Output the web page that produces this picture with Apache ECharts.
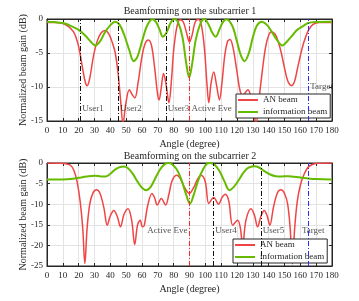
<!DOCTYPE html>
<html>
<head>
<meta charset="utf-8">
<script src="https://cdn.jsdelivr.net/npm/echarts@6/dist/echarts.min.js"></script>
<style>
  html, body { margin: 0; padding: 0; background: #fff; }
  #main { width: 359px; height: 301px; }
</style>
</head>
<body>
<div id="main"></div>
<script>
// 两个子载波上的波束图（角度, 归一化增益 dB）
var an1 = [
  [0, -0.5], [5, -0.5], [9, -0.6], [13, -1.0], [16.8, -1.9], [19, -3.2], [20.5, -4.6],
  [22.5, -7.3], [24.2, -9.3], [25.4, -9.8], [27, -8.7], [29.4, -5.4], [31.5, -3.4],
  [34, -2.1], [36.8, -1.7], [39, -2.2], [41, -3.3], [43.1, -5.0], [45, -8.2], [46.5, -12],
  [48, -15.4], [49.8, -12.4], [52, -10.4], [54, -11.2], [55.5, -11.6], [57.5, -9.4],
  [60, -5.5], [62, -3.6], [64, -3.1], [66, -3.9], [68, -7.2], [69.8, -11], [70.8, -11.9],
  [72, -10.4], [73.6, -8.0], [75.2, -9.6], [77, -12.3], [78.6, -9], [80, -4.6], [82, -1.2],
  [84, -0.1], [86, -0.4], [88, -1.9], [90, -3.4], [91.7, -2.3], [93.5, -0.5], [95.5, -0.05],
  [97.5, -0.9], [99.5, -4.5], [101, -9.5], [102.2, -12.3], [103.6, -9.5], [105.3, -7.8],
  [107, -9.6], [108.9, -11.9], [110.5, -9.4], [112.2, -5.5], [114, -3.3], [115.6, -3.0],
  [117.5, -4.2], [120, -7.8], [121.8, -10.4], [123.5, -11.3], [125.3, -10.8], [126.9, -10.4],
  [129, -11.6], [130.6, -13.6], [132, -15.4], [133.8, -12], [136, -7.6], [138, -4.2],
  [140, -2.4], [141.5, -1.9], [144, -2.2], [146, -3.3], [148, -5], [150, -7.2], [152.2, -9.2],
  [154.6, -9.8], [156.3, -9.2], [158, -7.5], [160, -5.4], [162, -3.6], [165, -1.7],
  [168, -0.8], [172, -0.5], [180, -0.5]
];
var info1 = [
  [0, -0.4], [5, -0.45], [10, -0.6], [15, -1.0], [20, -1.6], [24, -2.4], [27.5, -3.3],
  [30.5, -3.9], [33.5, -3.3], [36.5, -2.0], [40, -0.9], [43, -0.4], [46, -0.9], [49, -2.5],
  [52, -4.6], [54.7, -6.2], [57, -5.6], [60, -3.3], [63, -1.1], [66.5, -0.05], [69, -0.5],
  [71, -1.5], [73.2, -2.6], [75.5, -2.0], [78, -0.6], [80.5, 0], [83, -0.6], [85.5, -2.6],
  [88, -6.6], [89.8, -8.6], [91.6, -6.7], [94, -3.0], [97, -0.6], [99.4, 0], [102, -0.8],
  [104.3, -2.0], [106.5, -2.6], [108.8, -1.6], [111, -0.5], [113.3, -0.03], [117, -1.0],
  [120, -3.3], [122.5, -5.4], [124.8, -6.2], [127.5, -5], [130, -2.7], [132.5, -1.0],
  [135.5, -0.4], [139, -0.9], [142, -1.9], [145, -3.0], [148.7, -3.9], [152, -3.2],
  [155, -2.4], [158, -1.6], [162, -1.0], [165, -0.6], [170, -0.45], [180, -0.4]
];
var an2 = [
  [0, 0], [8, -0.05], [12, -0.2], [15, -0.6], [17, -1.8], [19, -4.5], [21, -9.5],
  [22.6, -16], [23.9, -24.4], [25.3, -16], [27, -10], [29, -7.3], [31.3, -6.5], [33.5, -7.4],
  [36, -11], [38, -15.1], [40, -12.8], [42.2, -11.5], [44.4, -13], [46.4, -15.5], [48.6, -12.5],
  [51.2, -11.1], [53.5, -14], [55.4, -19.8], [57.2, -15], [58.9, -13.9], [60.2, -15.5],
  [61.4, -15.2], [63.5, -10.5], [66.3, -7.4], [68, -8.5], [69.6, -10.2], [72.2, -8.6],
  [74.9, -10.2], [77, -7.6], [79, -4.3], [82, -3.0], [84.5, -4.0], [87, -6.0], [89.9, -7.4],
  [92.6, -6.0], [95, -4.0], [97.3, -3.0], [100, -4.6], [102.2, -9.8], [105.3, -8.4],
  [108.4, -10.0], [110.5, -8.4], [112.6, -7.6], [114.8, -9.2], [117.3, -15.1], [120.4, -13.9],
  [122, -15.5], [123.6, -20], [125.6, -14], [128.8, -11.1], [131, -12.6], [133, -15.5],
  [135.2, -12.8], [137.2, -11.5], [139, -12.8], [140.8, -15.1], [143, -10.8], [145.5, -7.3],
  [147.7, -6.5], [150, -7.4], [152, -10], [153.6, -16], [155, -24.5], [156.4, -16],
  [158, -9.5], [160, -5.4], [162.5, -2.6], [165, -1.0], [168, -0.3], [172, -0.05], [180, 0]
];
var info2 = [
  [0, -4.0], [10, -4.0], [15, -3.9], [20, -3.6], [25, -3.3], [30, -3.1], [34, -3.25],
  [37, -3.3], [40, -2.6], [43, -1.6], [46, -1.0], [48.5, -0.85], [51, -1.2], [54, -2.5],
  [57, -4.4], [60, -6.0], [62.8, -6.6], [65.5, -5.8], [68, -4.0], [71, -1.8], [74, -0.4],
  [76.8, 0], [79, -0.3], [82, -1.6], [85, -4.2], [88, -7.8], [90.3, -9.9], [92.6, -7.8],
  [95.5, -4.2], [98.5, -1.6], [101, -0.2], [103.2, 0], [106, -0.5], [109, -2.0], [112, -4.4],
  [115.2, -6.6], [118, -5.8], [121, -4.2], [124, -2.4], [127, -1.2], [130.8, -0.8],
  [134, -1.1], [137, -1.9], [141, -2.8], [144.5, -3.2], [148, -3.25], [152, -3.2],
  [156, -3.35], [160, -3.5], [165, -3.75], [170, -3.9], [180, -4.0]
];

// 用户 / 窃听者 / 目标 方向
var users1 = [21, 45, 75];
var users2 = [105, 135];
var eveAngle = 90;
var targetAngle = 165;
var userNames1 = ['User1', 'User2', 'User3'];
var userNames2 = ['User4', 'User5'];
var xTicks = { min: 0, max: 180, interval: 10 };

var FONT = 'Liberation Serif';
var RED = '#f04545';
var GREEN = '#66bb00';
var INK = '#262626';

var myChart = echarts.init(document.getElementById('main'));

function xAx(gi, pos) {
  return {
    type: 'value', gridIndex: gi, position: pos,
    min: xTicks.min, max: xTicks.max, interval: xTicks.interval,
    axisLine: { show: true, onZero: false, lineStyle: { color: INK, width: 1 } },
    axisTick: { show: true, inside: true, length: 3, lineStyle: { color: INK } },
    axisLabel: { show: pos === 'bottom', margin: 5, fontSize: 9, fontFamily: FONT, color: INK },
    splitLine: { show: pos === 'bottom', lineStyle: { color: '#e3e3e3', width: 1 } },
    name: pos === 'bottom' ? 'Angle (degree)' : '',
    nameLocation: 'middle', nameGap: 18,
    nameTextStyle: { fontSize: 10, fontFamily: FONT, color: INK }
  };
}
function yAx(gi, pos, min) {
  return {
    type: 'value', gridIndex: gi, position: pos,
    min: min, max: 0, interval: 5,
    axisLine: { show: true, onZero: false, lineStyle: { color: INK, width: 1 } },
    axisTick: { show: true, inside: true, length: 3, lineStyle: { color: INK } },
    axisLabel: { show: pos === 'left', margin: 4, fontSize: 9, fontFamily: FONT, color: INK },
    splitLine: { show: pos === 'left', lineStyle: { color: '#e3e3e3', width: 1 } },
    name: pos === 'left' ? 'Normalized beam gain (dB)' : '',
    nameLocation: 'middle', nameGap: 19, nameMoveOverlap: false,
    nameTextStyle: { fontSize: 10, fontFamily: FONT, color: INK }
  };
}

function vline(x, color) {
  return { xAxis: x, lineStyle: { color: color, type: [5, 2, 1, 2], width: 1 } };
}

function marks(gi, lines) {
  return {
    name: 'marks' + gi, type: 'line', xAxisIndex: gi * 2, yAxisIndex: gi * 2,
    data: [], silent: true, z: 3,
    markLine: { symbol: 'none', silent: true, label: { show: false }, data: lines }
  };
}

function labels(gi, items) {
  return {
    name: 'labels' + gi, type: 'scatter', xAxisIndex: gi * 2, yAxisIndex: gi * 2,
    symbolSize: 0, silent: true, z: 4,
    label: { show: true, position: 'right', distance: 2, formatter: '{b}',
      fontSize: 9, fontFamily: FONT, color: INK },
    data: items
  };
}

function curve(name, gi, data, color, width) {
  return {
    name: name, type: 'line', xAxisIndex: gi * 2, yAxisIndex: gi * 2,
    data: data, smooth: 0.35, symbol: 'none', z: 2,
    lineStyle: { color: color, width: width }, itemStyle: { color: color }
  };
}

var lines1 = users1.map(function (u) { return vline(u, '#111'); })
  .concat([vline(eveAngle, '#ff2a2a'), vline(targetAngle, '#2a2aff')]);
var lines2 = [vline(eveAngle, '#ff2a2a')]
  .concat(users2.map(function (u) { return vline(u, '#111'); }))
  .concat([vline(targetAngle, '#2a2aff')]);

var lab1 = users1.map(function (u, i) { return { name: userNames1[i], value: [u, -13.2] }; })
  .concat([{ name: 'Active Eve', value: [eveAngle, -13.2] },
           { name: 'Target', value: [targetAngle, -10.0] }]);
var lab2 = [{ name: 'Active Eve', value: [eveAngle, -16.4], label: { position: 'left' } }]
  .concat(users2.map(function (u, i) { return { name: userNames2[i], value: [u, -16.4] }; }))
  .concat([{ name: 'Target', value: [targetAngle, -16.4], label: { position: 'inside', offset: [5, 0] } }]);

var legendBase = {
  orient: 'vertical', itemWidth: 20, itemHeight: 2, itemGap: 2, icon: 'rect',
  padding: [1, 3, 1, 2], backgroundColor: '#fff', borderColor: INK, borderWidth: 1, borderRadius: 0,
  textStyle: { fontSize: 9, lineHeight: 10, fontFamily: FONT, color: INK },
  data: ['AN beam', 'information beam']
};

option = {
  animation: false,
  backgroundColor: '#fff',
  title: [
    { text: 'Beamforming on the subcarrier 1', left: 190, top: 6, textAlign: 'center', padding: 0,
      textStyle: { fontSize: 10, fontWeight: 'normal', fontFamily: FONT, color: INK } },
    { text: 'Beamforming on the subcarrier 2', left: 190, top: 151, textAlign: 'center', padding: 0,
      textStyle: { fontSize: 10, fontWeight: 'normal', fontFamily: FONT, color: INK } }
  ],
  legend: [
    Object.assign({}, legendBase, { left: 236, top: 94 }),
    Object.assign({}, legendBase, { left: 233, top: 239 })
  ],
  grid: [
    { left: 47, top: 19, width: 285, height: 102, show: true, borderColor: INK, borderWidth: 1 },
    { left: 47, top: 163, width: 285, height: 103, show: true, borderColor: INK, borderWidth: 1 }
  ],
  xAxis: [xAx(0, 'bottom'), xAx(0, 'top'), xAx(1, 'bottom'), xAx(1, 'top')],
  yAxis: [yAx(0, 'left', -15), yAx(0, 'right', -15), yAx(1, 'left', -25), yAx(1, 'right', -25)],
  series: [
    curve('AN beam', 0, an1, RED, 1.5),
    curve('information beam', 0, info1, GREEN, 2),
    curve('AN beam', 1, an2, RED, 1.5),
    curve('information beam', 1, info2, GREEN, 2),
    marks(0, lines1),
    marks(1, lines2),
    labels(0, lab1),
    labels(1, lab2)
  ]
};

myChart.setOption(option);
</script>
</body>
</html>
